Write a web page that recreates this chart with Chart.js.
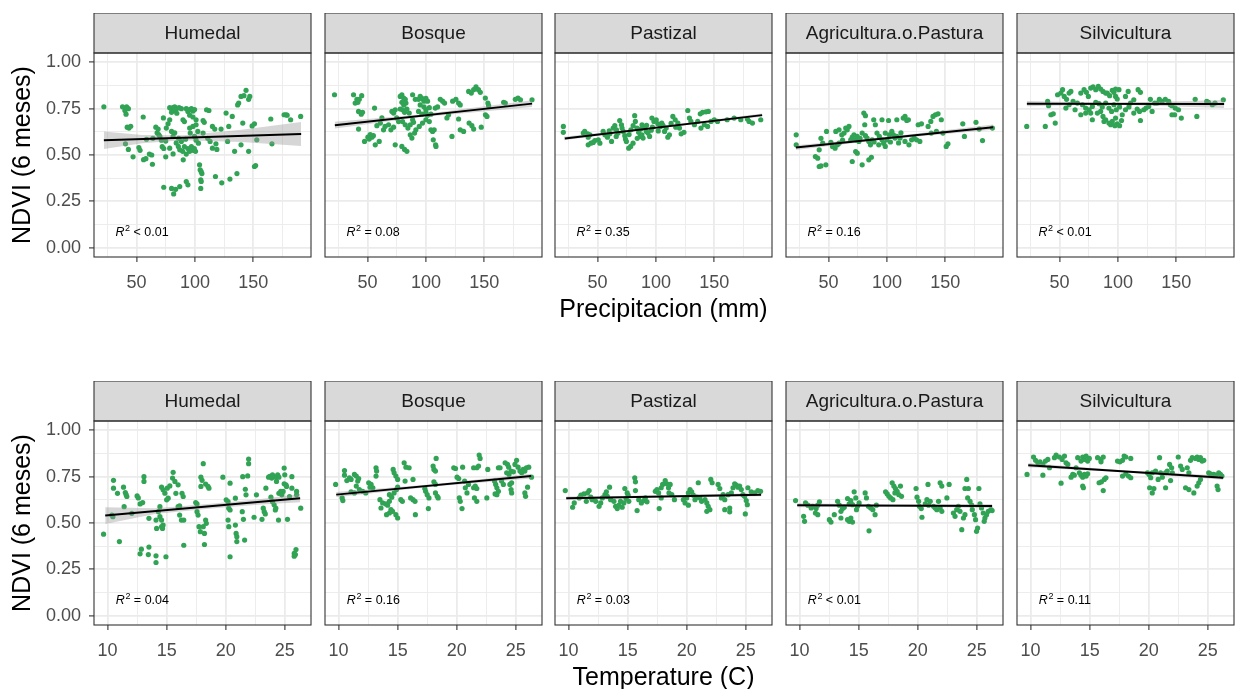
<!DOCTYPE html>
<html>
<head>
<meta charset="utf-8">
<script src="https://cdn.jsdelivr.net/npm/chart.js@4.4.1/dist/chart.umd.min.js"></script>
<style>
  html, body { margin: 0; padding: 0; background: #fff; width: 1236px; height: 689px; overflow: hidden; }
  canvas { position: absolute; }
</style>
</head>
<body>
<script>
// facet labels and annotations
const landUse = ['Humedal', 'Bosque', 'Pastizal', 'Agricultura.o.Pastura', 'Silvicultura'];
const precipR2 = ['< 0.01', '= 0.08', '= 0.35', '= 0.16', '< 0.01'];
const tempR2 = ['= 0.04', '= 0.16', '= 0.03', '< 0.01', '= 0.11'];

// axis breaks
const precipTicks = [50, 100, 150];
const precipMinor = [25, 75, 125, 175];
const tempTicks = [10, 15, 20, 25];
const tempMinor = [12.5, 17.5, 22.5];
const ndviTicks = [0, 0.25, 0.5, 0.75, 1];
const ndviMinor = [0.125, 0.375, 0.625, 0.875];
const precipRange = [13.55, 199.45];
const tempRange = [8.85, 27.22];
const ndviRange = [-0.05, 1.05];

// NDVI vs precipitation (mm)
const precipHumedal = [[22,0.76],[38,0.76],[40,0.74],[41.5,0.76],[43,0.75],[41,0.72],[42,0.65],[43.5,0.645],[45,0.655],[40.5,0.56],[43,0.53],[47,0.49],[52,0.54],[53,0.525],[55.7,0.705],[56,0.475],[58,0.48],[61,0.505],[63,0.50],[58.5,0.585],[63.6,0.45],[66.5,0.65],[67.6,0.62],[68.5,0.64],[70,0.60],[71.3,0.58],[73,0.70],[72,0.545],[73.3,0.535],[73.3,0.326],[75,0.49],[75.5,0.645],[77,0.668],[78.4,0.69],[78.4,0.755],[79.8,0.75],[81.3,0.755],[82.7,0.76],[84,0.748],[86.4,0.755],[88.4,0.75],[80,0.73],[82,0.74],[84.5,0.725],[80,0.32],[81.8,0.29],[83.5,0.315],[87,0.33],[80,0.627],[81.3,0.60],[82.7,0.62],[84,0.565],[85.8,0.546],[87,0.528],[88.4,0.573],[78.4,0.537],[81.3,0.506],[89.8,0.69],[91,0.68],[89.5,0.52],[91,0.545],[92.6,0.505],[94,0.535],[95.5,0.52],[97,0.545],[98.5,0.525],[99.5,0.535],[100.5,0.52],[90,0.474],[92.6,0.357],[94,0.339],[92.6,0.75],[94,0.735],[95.5,0.745],[97,0.75],[98.3,0.737],[99.7,0.745],[95.5,0.715],[98.3,0.705],[101,0.69],[95.5,0.645],[98.3,0.654],[101,0.663],[96,0.618],[99.7,0.60],[102.5,0.627],[103,0.564],[104,0.447],[104.5,0.42],[105.4,0.41],[106,0.40],[105,0.366],[105.4,0.357],[105,0.32],[107,0.686],[108,0.676],[110,0.744],[112,0.74],[107,0.618],[111,0.59],[113,0.573],[115,0.537],[115,0.654],[117,0.64],[117.6,0.384],[118.8,0.53],[118,0.56],[122.4,0.64],[123,0.35],[126.7,0.726],[128,0.573],[129,0.654],[130,0.37],[132,0.708],[134,0.52],[136,0.40],[137.5,0.78],[139.5,0.816],[142,0.82],[143.8,0.849],[146,0.80],[147,0.816],[136.6,0.77],[139.5,0.555],[141,0.672],[146,0.52],[149,0.657],[151,0.668],[151,0.438],[152,0.443],[153,0.582],[165,0.694],[166,0.56],[176.4,0.717],[178,0.717],[179,0.715],[182,0.69],[190.6,0.708],[64,0.59],[69,0.61],[75,0.575],[86,0.59],[92,0.585],[101,0.58]];
const precipBosque = [[21.7,0.825],[38,0.825],[40.9,0.80],[42.9,0.80],[45,0.82],[39.4,0.78],[41.7,0.784],[42.3,0.735],[44.6,0.72],[45.7,0.73],[42.3,0.64],[47.4,0.573],[50.3,0.596],[52.3,0.61],[53.7,0.596],[55,0.604],[51.4,0.586],[56.6,0.555],[60,0.573],[56,0.753],[58,0.658],[61,0.672],[63.7,0.636],[65,0.654],[62.3,0.70],[70.9,0.735],[72.3,0.726],[73.7,0.744],[73.7,0.555],[68,0.663],[70,0.636],[72.3,0.65],[75,0.70],[76.6,0.68],[78,0.816],[79.4,0.825],[80.9,0.807],[82.3,0.80],[79.4,0.784],[81,0.77],[82.9,0.78],[78,0.748],[80,0.744],[81.7,0.73],[83.7,0.748],[85.7,0.726],[79.4,0.546],[81.7,0.53],[83.7,0.52],[80,0.68],[82.3,0.663],[84.6,0.645],[86.6,0.663],[88.6,0.69],[89.4,0.676],[86.6,0.609],[88,0.591],[90.3,0.618],[91.4,0.636],[88.6,0.825],[90.9,0.80],[93.7,0.80],[95.1,0.816],[96.6,0.805],[98.3,0.79],[100,0.805],[101.4,0.79],[95.1,0.77],[98.3,0.76],[100,0.745],[102.9,0.755],[93.7,0.735],[96.6,0.72],[100,0.73],[101.4,0.715],[104.3,0.72],[94.3,0.654],[97.1,0.672],[100,0.69],[102.9,0.68],[105.7,0.627],[104.3,0.636],[107.1,0.636],[106.3,0.582],[108.3,0.555],[108.6,0.546],[108,0.753],[110,0.759],[112.3,0.80],[114.3,0.79],[116,0.78],[118,0.70],[119.4,0.717],[122.9,0.79],[125.7,0.80],[128,0.78],[129.4,0.77],[122.3,0.60],[128,0.694],[129.4,0.636],[132.3,0.627],[136.6,0.843],[138.9,0.834],[140.9,0.852],[142.9,0.867],[145,0.852],[146.6,0.838],[137,0.672],[139.4,0.658],[140.9,0.64],[147.4,0.65],[150.9,0.807],[153.1,0.78],[153.7,0.766],[151,0.717],[152.3,0.708],[166.6,0.784],[168,0.78],[176.6,0.80],[178.9,0.807],[181,0.798],[190.9,0.798]];
const precipPastizal = [[20.7,0.654],[20.7,0.622],[37.8,0.618],[39,0.627],[41.5,0.614],[43.5,0.609],[42,0.596],[42,0.555],[44.3,0.564],[46.3,0.568],[47.7,0.578],[50.6,0.582],[52,0.564],[54.8,0.627],[56.3,0.609],[58.5,0.596],[60.5,0.614],[62,0.573],[63.4,0.645],[64.8,0.658],[66.2,0.636],[67.6,0.618],[69,0.686],[70.5,0.663],[72,0.627],[73.3,0.604],[73.9,0.586],[74.7,0.573],[76.7,0.537],[78.4,0.546],[80.4,0.564],[78.6,0.636],[80.5,0.658],[81.8,0.712],[82.4,0.681],[83.8,0.645],[85.2,0.622],[86.6,0.60],[88,0.609],[88.1,0.663],[90.3,0.645],[91.8,0.627],[93.2,0.618],[94.6,0.60],[89,0.591],[96,0.634],[96.6,0.699],[98.3,0.681],[100.3,0.69],[101.7,0.668],[104,0.654],[105,0.672],[107.4,0.627],[110.2,0.596],[111.6,0.609],[108.8,0.645],[114.5,0.708],[116.5,0.69],[118.8,0.672],[120.2,0.645],[121.6,0.614],[124,0.622],[127.3,0.74],[128.7,0.699],[130,0.681],[133,0.663],[135.8,0.681],[138,0.722],[140,0.73],[142.9,0.733],[144.9,0.735],[138.6,0.645],[141.5,0.663],[144.3,0.654],[147.2,0.681],[150,0.69],[152.8,0.681],[161,0.69],[167,0.699],[172.7,0.69],[178.4,0.694],[179.8,0.681],[182.7,0.672],[189.8,0.69],[60,0.63],[66,0.60],[71,0.645],[77,0.61],[84,0.59],[87,0.64],[92,0.66],[97,0.65],[102,0.63],[106,0.66],[113,0.67],[117,0.65]];
const precipAgricultura = [[22.3,0.609],[22.3,0.555],[38.7,0.492],[40.7,0.483],[42,0.528],[42,0.438],[43.5,0.441],[47.7,0.447],[43.5,0.59],[45,0.564],[48.3,0.627],[52,0.568],[53.4,0.546],[55.6,0.537],[57.6,0.555],[59,0.564],[56.2,0.627],[59,0.636],[61.3,0.609],[63.3,0.618],[64.7,0.645],[66,0.636],[67.5,0.654],[69,0.582],[70.3,0.596],[71.8,0.609],[73.2,0.582],[74.6,0.60],[76,0.573],[70.3,0.465],[73.2,0.519],[74.6,0.51],[78.8,0.447],[80.2,0.726],[81.6,0.712],[81,0.663],[78.8,0.618],[81.6,0.604],[83,0.591],[84.5,0.573],[85.9,0.555],[87.3,0.582],[84.5,0.474],[86.7,0.488],[88.7,0.69],[90.1,0.663],[91.5,0.618],[93.5,0.60],[95.8,0.582],[97.2,0.564],[98.6,0.546],[100,0.582],[98.6,0.618],[102,0.609],[95.8,0.69],[101.4,0.686],[104.2,0.627],[105.6,0.609],[107,0.591],[108.5,0.60],[111.3,0.591],[108.5,0.69],[114,0.699],[115.5,0.708],[117,0.686],[118.4,0.69],[115.5,0.573],[118.9,0.555],[121.2,0.582],[123.4,0.591],[125.4,0.582],[128.2,0.573],[126.8,0.663],[129.6,0.668],[135.3,0.654],[137.6,0.681],[139.5,0.708],[141.5,0.717],[143.8,0.722],[146.6,0.69],[138,0.618],[142.4,0.627],[148,0.618],[150.8,0.546],[152.3,0.56],[165,0.668],[166.4,0.60],[176.3,0.676],[179,0.64],[181.9,0.578],[190.4,0.645],[62,0.58],[77,0.59],[89,0.57],[93,0.555],[103,0.57],[110,0.565],[112,0.62]];
const precipSilvicultura = [[21.9,0.654],[37.8,0.654],[39.8,0.789],[40.6,0.766],[42.6,0.717],[44.6,0.722],[46.3,0.672],[48.3,0.825],[51.1,0.834],[52.6,0.852],[54,0.816],[56,0.80],[58.2,0.834],[59.7,0.843],[55.4,0.753],[58.2,0.771],[61.6,0.789],[63.3,0.744],[65.3,0.78],[68.2,0.834],[71,0.852],[73,0.838],[74.7,0.816],[76.7,0.861],[78.7,0.867],[81,0.852],[83.2,0.87],[85.2,0.856],[87.2,0.843],[89.5,0.834],[69.6,0.771],[72.4,0.753],[75.3,0.744],[78.1,0.762],[81,0.784],[83.8,0.777],[86.6,0.759],[89.5,0.78],[68.2,0.717],[72.4,0.726],[76.7,0.726],[78.1,0.69],[82.4,0.726],[85.2,0.735],[87.2,0.708],[88.1,0.681],[90.9,0.834],[92.9,0.82],[95.2,0.849],[96.6,0.838],[98,0.816],[99.4,0.802],[100.9,0.852],[98,0.856],[92.3,0.753],[94.6,0.735],[96.6,0.771],[98.6,0.744],[101.4,0.759],[89.5,0.69],[92.3,0.672],[93.8,0.663],[95.2,0.681],[97.4,0.658],[99.4,0.668],[101.4,0.658],[103.1,0.686],[98,0.699],[103.7,0.717],[106.5,0.744],[109.4,0.759],[110.8,0.78],[113.6,0.798],[106.5,0.816],[108.8,0.843],[113.6,0.726],[116.5,0.748],[118.5,0.735],[119.3,0.686],[117.3,0.852],[119.3,0.838],[122.2,0.744],[124.1,0.753],[126.4,0.762],[129.3,0.735],[131.5,0.78],[127.8,0.80],[133.5,0.78],[135.5,0.80],[137.8,0.789],[140.6,0.80],[143.5,0.789],[144.9,0.771],[146.3,0.766],[146.3,0.717],[149.1,0.753],[151.9,0.744],[148.6,0.717],[154.3,0.699],[166.2,0.80],[167.6,0.708],[176.1,0.789],[177.6,0.784],[180.9,0.771],[183.2,0.78],[190.3,0.798]];

// NDVI vs temperature (C)
const tempHumedal = [[9.66,0.44],[10.5,0.73],[10.5,0.688],[10.36,0.543],[10.45,0.534],[10.84,0.66],[11,0.40],[11.35,0.693],[11.5,0.664],[11.57,0.653],[11.63,0.643],[11.4,0.588],[12.05,0.552],[12.5,0.646],[12.6,0.635],[12.75,0.603],[12.97,0.61],[13.08,0.75],[13.08,0.724],[12.75,0.334],[12.86,0.359],[13.5,0.37],[13.45,0.33],[14.1,0.323],[14.1,0.287],[14.94,0.318],[13.5,0.525],[14.1,0.516],[14.15,0.471],[14.3,0.561],[14.43,0.588],[14.57,0.693],[14.7,0.679],[14.85,0.661],[14.43,0.534],[14.57,0.516],[14.7,0.489],[14.57,0.48],[14.65,0.471],[15,0.625],[15.13,0.634],[15.05,0.688],[15.27,0.70],[15.5,0.742],[15.55,0.773],[15.7,0.724],[15.78,0.66],[15.97,0.706],[15.97,0.588],[16.1,0.592],[16.1,0.543],[16.25,0.516],[16.3,0.66],[16.4,0.643],[16.45,0.38],[16.45,0.516],[17.46,0.61],[17.57,0.603],[17.57,0.561],[17.66,0.543],[17.74,0.48],[17.85,0.453],[17.9,0.747],[18,0.73],[17.9,0.697],[18.1,0.48],[18.1,0.82],[18.2,0.384],[18.2,0.444],[18.3,0.516],[18.36,0.498],[18.3,0.71],[18.5,0.697],[18.58,0.688],[19.76,0.747],[20.04,0.625],[20.2,0.615],[20.26,0.58],[20.2,0.516],[20.26,0.48],[20.37,0.715],[20.37,0.318],[20.37,0.57],[20.82,0.634],[20.82,0.489],[20.88,0.444],[20.94,0.426],[20.94,0.40],[21.4,0.561],[21.5,0.52],[21.6,0.408],[21.44,0.75],[21.66,0.682],[21.72,0.652],[21.86,0.754],[21.94,0.845],[21.94,0.82],[22.4,0.531],[22.6,0.652],[23.07,0.52],[23.18,0.58],[23.26,0.561],[23.35,0.549],[23.4,0.688],[23.63,0.747],[23.74,0.751],[23.9,0.742],[23.96,0.76],[23.83,0.639],[23.96,0.615],[24.1,0.598],[24.24,0.58],[24.2,0.57],[24.24,0.747],[24.4,0.76],[24.5,0.747],[24.3,0.724],[24.5,0.66],[24.66,0.67],[24.75,0.652],[24.86,0.67],[24.47,0.516],[24.95,0.796],[25,0.76],[25.1,0.706],[25.15,0.697],[24.95,0.711],[25.23,0.52],[25.4,0.643],[25.6,0.75],[25.6,0.688],[25.8,0.336],[25.8,0.321],[25.9,0.33],[25.95,0.357],[26,0.67],[26,0.652],[26.35,0.58]];
const tempBosque = [[9.75,0.708],[10.3,0.635],[10.36,0.621],[10.5,0.783],[10.5,0.758],[10.7,0.729],[10.92,0.744],[11.06,0.735],[11.34,0.762],[11.5,0.753],[11.62,0.726],[11.7,0.74],[11.5,0.699],[11.76,0.68],[11.06,0.668],[11.34,0.662],[12.04,0.671],[12.3,0.662],[12.55,0.717],[12.75,0.708],[12.9,0.69],[12.66,0.693],[13.17,0.798],[13.22,0.78],[13.17,0.753],[13.5,0.626],[13.73,0.608],[13.59,0.581],[14,0.603],[14.15,0.596],[14.3,0.617],[14.3,0.653],[14.5,0.639],[14.7,0.662],[14.06,0.545],[14.3,0.554],[14.57,0.563],[14.85,0.545],[15,0.527],[14.43,0.572],[14.62,0.789],[14.7,0.771],[14.85,0.753],[15,0.735],[15,0.693],[14.9,0.68],[15.27,0.626],[15.4,0.617],[15.55,0.825],[15.7,0.801],[15.97,0.798],[15.63,0.726],[16.1,0.635],[16.3,0.626],[16.47,0.617],[16.3,0.735],[16.5,0.545],[17.3,0.686],[17.37,0.671],[17.5,0.653],[17.65,0.635],[17.6,0.578],[18,0.807],[18.07,0.789],[18.2,0.78],[18.26,0.848],[18.2,0.662],[18.35,0.644],[18.43,0.635],[18.07,0.722],[18.2,0.708],[19.75,0.798],[19.9,0.794],[20.03,0.747],[20.17,0.74],[20.22,0.635],[20.3,0.617],[20.45,0.578],[20.5,0.801],[20.67,0.726],[20.73,0.69],[20.87,0.662],[21,0.708],[21.43,0.798],[21.7,0.798],[21.85,0.807],[21.43,0.69],[21.57,0.699],[21.7,0.686],[21.5,0.635],[21.7,0.617],[21.9,0.866],[21.98,0.848],[22.55,0.635],[22.63,0.789],[23.2,0.726],[23.3,0.708],[23.4,0.69],[23.53,0.671],[23.25,0.657],[23.4,0.653],[23.53,0.798],[23.67,0.798],[23.8,0.726],[23.95,0.708],[24.1,0.825],[24.3,0.816],[24.4,0.801],[24.23,0.771],[24.43,0.762],[24.6,0.78],[24.8,0.776],[24.5,0.708],[24.65,0.717],[24.6,0.68],[24.65,0.662],[24.93,0.816],[25.07,0.838],[25.2,0.801],[25.35,0.78],[25.5,0.771],[25.63,0.789],[25.77,0.78],[25.9,0.798],[26.1,0.801],[25.77,0.662],[25.83,0.644],[26,0.693],[26.33,0.747]];
const tempPastizal = [[9.72,0.675],[10.34,0.585],[10.48,0.608],[10.9,0.635],[11.04,0.65],[11.3,0.657],[11.5,0.617],[11.6,0.662],[11.74,0.675],[11.88,0.639],[12,0.626],[12.3,0.617],[12.58,0.59],[12.72,0.608],[12.86,0.635],[13.08,0.653],[13.2,0.668],[13.28,0.644],[13.47,0.693],[13.56,0.626],[13.84,0.617],[13.98,0.59],[14.12,0.578],[14.26,0.596],[14.4,0.617],[14.54,0.585],[14.68,0.608],[14.76,0.686],[14.87,0.632],[14.96,0.662],[15.04,0.65],[15.1,0.617],[15.6,0.744],[15.66,0.722],[15.66,0.675],[15.8,0.567],[15.94,0.626],[16.16,0.608],[16.36,0.621],[16.5,0.635],[16.64,0.614],[17.34,0.671],[17.48,0.68],[17.62,0.662],[17.84,0.69],[17.96,0.708],[18.18,0.729],[18.32,0.711],[18.46,0.69],[18.6,0.708],[18.5,0.662],[17.84,0.635],[17.67,0.578],[18.74,0.653],[18.96,0.626],[19.72,0.626],[19.86,0.608],[20,0.635],[20.14,0.662],[20.28,0.68],[20.42,0.668],[20.56,0.65],[20.7,0.626],[20.84,0.639],[20.98,0.717],[20.14,0.596],[21.12,0.635],[21.26,0.617],[21.55,0.626],[21.7,0.608],[21.82,0.59],[21.96,0.572],[21.7,0.563],[22.04,0.735],[22.15,0.717],[22.66,0.708],[22.8,0.686],[22.94,0.635],[23.08,0.653],[23.22,0.626],[23.22,0.572],[23.64,0.581],[23.64,0.56],[23.5,0.653],[23.78,0.662],[23.92,0.69],[24.06,0.711],[24.2,0.704],[24.34,0.693],[24.48,0.699],[24.62,0.68],[24.76,0.653],[24.9,0.644],[25.04,0.621],[25.13,0.599],[24.96,0.549],[25.18,0.69],[25.46,0.668],[25.74,0.662],[26.02,0.675],[26.25,0.671]];
const tempAgricultura = [[9.66,0.621],[10.34,0.536],[10.42,0.509],[10.5,0.608],[10.7,0.596],[10.98,0.581],[11.12,0.59],[11.4,0.578],[11.54,0.596],[11.68,0.614],[11.34,0.554],[11.54,0.545],[12.52,0.518],[12.66,0.505],[12.94,0.545],[13.22,0.617],[13.36,0.596],[13.5,0.563],[13.64,0.578],[13.78,0.585],[13.5,0.527],[14.06,0.518],[14.2,0.509],[14.34,0.527],[14.48,0.505],[14.06,0.632],[14.2,0.603],[14.34,0.621],[14.48,0.599],[14.62,0.668],[14.76,0.635],[14.82,0.572],[14.9,0.59],[15.04,0.608],[15.55,0.662],[15.66,0.635],[15.83,0.59],[16.02,0.581],[16.2,0.572],[16.39,0.545],[16.5,0.596],[15.88,0.458],[17.28,0.668],[17.42,0.657],[17.56,0.644],[17.7,0.635],[17.84,0.717],[17.98,0.699],[18.12,0.686],[18.26,0.671],[18.4,0.653],[18.54,0.699],[18.63,0.644],[18.07,0.662],[17.9,0.626],[19.86,0.686],[19.94,0.639],[20.08,0.617],[20.14,0.59],[20.3,0.578],[20.36,0.531],[20.64,0.603],[20.78,0.626],[20.92,0.596],[21.06,0.617],[20.87,0.708],[21.34,0.59],[21.48,0.581],[21.62,0.572],[21.76,0.617],[21.9,0.581],[22.04,0.563],[21.9,0.717],[22.04,0.699],[22.47,0.635],[22.66,0.708],[23.02,0.554],[23.16,0.536],[23.3,0.572],[23.44,0.59],[23.58,0.563],[23.73,0.464],[23.87,0.527],[24,0.545],[24,0.686],[24.15,0.735],[24.29,0.686],[24.23,0.635],[24.43,0.617],[24.57,0.596],[24.62,0.572],[24.8,0.545],[24.9,0.518],[24.98,0.455],[25.07,0.473],[25.18,0.686],[25.27,0.603],[25.4,0.581],[25.55,0.554],[25.69,0.527],[25.83,0.545],[25.97,0.563],[26.2,0.572],[26.3,0.567],[25.63,0.509]];
const tempSilvicultura = [[9.7,0.762],[10.25,0.856],[10.42,0.838],[10.62,0.825],[10.8,0.83],[11.04,0.816],[11.26,0.834],[11.46,0.843],[11.6,0.798],[11.04,0.758],[12.02,0.852],[12.16,0.866],[12.44,0.856],[12.67,0.843],[12.87,0.861],[13,0.825],[13.15,0.816],[12.58,0.715],[13.43,0.747],[13.57,0.762],[13.7,0.758],[13.85,0.798],[13.99,0.852],[14.27,0.834],[14.41,0.856],[14.55,0.843],[14.7,0.861],[14.83,0.834],[14.97,0.848],[14.13,0.771],[14.27,0.758],[14.41,0.747],[14.55,0.762],[14.7,0.753],[14.83,0.765],[14.41,0.699],[14.47,0.69],[15.67,0.852],[15.96,0.843],[16.15,0.856],[15.96,0.83],[15.8,0.717],[16,0.722],[16.24,0.735],[16.38,0.744],[16.15,0.675],[17.36,0.834],[17.56,0.83],[17.78,0.838],[17.92,0.861],[18.06,0.856],[18.48,0.848],[17.78,0.753],[18.06,0.765],[18.29,0.753],[18.48,0.744],[19.9,0.771],[20.03,0.762],[20.17,0.744],[20.3,0.771],[20.08,0.69],[20.3,0.662],[20.44,0.686],[20.58,0.78],[20.8,0.735],[20.92,0.852],[21.01,0.771],[21.15,0.747],[21.43,0.771],[21.57,0.78],[21.43,0.69],[21.77,0.816],[21.94,0.798],[22,0.771],[21.85,0.729],[22.5,0.856],[22.7,0.807],[22.84,0.789],[23.12,0.69],[23.26,0.798],[23.4,0.771],[23.54,0.838],[23.68,0.852],[23.96,0.848],[24.1,0.856],[24.24,0.843],[24.38,0.852],[24.52,0.834],[24.66,0.838],[23.4,0.68],[23.82,0.662],[24.1,0.699],[24.24,0.717],[24.38,0.735],[25.08,0.771],[25.22,0.765],[25.5,0.762],[25.65,0.758],[25.93,0.771],[26.07,0.762],[26.2,0.753],[25.79,0.699],[25.87,0.68]];

// fitted lines (lm) and their 95% bands
const precipFitX = [22, 191];
const precipFitY = [[0.58, 0.613], [0.661, 0.777], [0.589, 0.715], [0.54, 0.65], [0.777, 0.775]];
const precipBandX = [[22, 55, 90, 140, 191], [22, 95, 191], [21, 95, 191], [22, 95, 191], [22, 95, 191]];
const precipBandHi = [[0.627, 0.608, 0.606, 0.636, 0.678], [0.679, 0.718, 0.795], [0.598, 0.648, 0.724], [0.553, 0.593, 0.664], [0.791, 0.781, 0.797]];
const precipBandLo = [[0.533, 0.564, 0.580, 0.570, 0.548], [0.643, 0.704, 0.759], [0.580, 0.640, 0.706], [0.527, 0.582, 0.636], [0.763, 0.772, 0.753]];
const tempFitX = [9.8, 26.3];
const tempFitY = [[0.54, 0.634], [0.653, 0.753], [0.634, 0.653], [0.596, 0.592], [0.812, 0.744]];
const tempBandX = [[9.8, 14, 19, 23, 26.3], [9.8, 18, 26.3], [9.8, 18, 26.3], [9.8, 18, 26.3], [9.8, 18, 26.3]];
const tempBandHi = [[0.585, 0.580, 0.605, 0.630, 0.656], [0.667, 0.709, 0.766], [0.643, 0.648, 0.662], [0.607, 0.599, 0.603], [0.823, 0.783, 0.755]];
const tempBandLo = [[0.495, 0.548, 0.579, 0.600, 0.612], [0.639, 0.697, 0.740], [0.625, 0.639, 0.644], [0.585, 0.589, 0.581], [0.801, 0.773, 0.733]];

const precipSeries = [precipHumedal, precipBosque, precipPastizal, precipAgricultura, precipSilvicultura];
const tempSeries = [tempHumedal, tempBosque, tempPastizal, tempAgricultura, tempSilvicultura];

// layout of the facet grid (px)
const FONT = 'Arial, "Liberation Sans", sans-serif';
const COL_LEFT = [94, 325, 555, 786, 1017];
const ROW_TOP = [53, 421];
const PANEL_W = 217, PANEL_H = 204, STRIP_H = 40, AXIS_H = 72;
const POINT_COLOR = '#31a354';

Chart.defaults.font.family = FONT;

const facetPlugin = {
  id: 'facet',
  afterDraw(chart, args, opts) {
    const { ctx, chartArea: a } = chart;
    const w = a.right - a.left;
    ctx.save();
    ctx.fillStyle = '#d9d9d9';
    ctx.fillRect(a.left, a.top - STRIP_H, w, STRIP_H);
    ctx.strokeStyle = '#333';
    ctx.lineWidth = 1.1;
    ctx.strokeRect(a.left, a.top - STRIP_H, w, STRIP_H);
    ctx.strokeRect(a.left, a.top, w, a.bottom - a.top);
    ctx.fillStyle = '#1a1a1a';
    ctx.font = '19px ' + FONT;
    ctx.textAlign = 'center';
    ctx.textBaseline = 'middle';
    ctx.fillText(opts.label, a.left + w / 2, a.top - STRIP_H / 2 + 1);

    // R^2 annotation
    let px = chart.scales.x.getPixelForValue(opts.r2x);
    const py = chart.scales.y.getPixelForValue(opts.r2y);
    ctx.textAlign = 'left';
    ctx.fillStyle = '#000';
    ctx.font = 'italic 12.5px ' + FONT;
    ctx.fillText('R', px, py);
    px += ctx.measureText('R').width + 0.5;
    ctx.font = '9px ' + FONT;
    ctx.fillText('2', px, py - 4.5);
    px += ctx.measureText('2').width;
    ctx.font = '12.5px ' + FONT;
    ctx.fillText(' ' + opts.r2, px, py);
    ctx.restore();
  }
};

const isIn = (list, v) => list.some(t => Math.abs(t - v) < 1e-9);

function gridOpts(majors, showTicks) {
  return {
    color: '#ebebeb',
    lineWidth: c => (c.tick && isIn(majors, c.tick.value)) ? 1.8 : 0.9,
    drawTicks: showTicks,
    tickLength: 5,
    tickWidth: 1.1,
    tickColor: c => (c.tick && isIn(majors, c.tick.value)) ? '#333' : 'rgba(0,0,0,0)'
  };
}

function makePanel(row, col) {
  const precip = row === 0;
  const pts = (precip ? precipSeries : tempSeries)[col];
  const fitX = precip ? precipFitX : tempFitX;
  const fitY = (precip ? precipFitY : tempFitY)[col];
  const bandX = (precip ? precipBandX : tempBandX)[col];
  const bandHi = (precip ? precipBandHi : tempBandHi)[col];
  const bandLo = (precip ? precipBandLo : tempBandLo)[col];
  const xMajor = precip ? precipTicks : tempTicks;
  const xMinor = precip ? precipMinor : tempMinor;
  const xRange = precip ? precipRange : tempRange;

  const L = col === 0 ? 94 : 20, R = 20;
  const width = L + PANEL_W + R;
  const height = STRIP_H + PANEL_H + AXIS_H;
  const canvas = document.createElement('canvas');
  canvas.width = width;
  canvas.height = height;
  canvas.style.width = width + 'px';
  canvas.style.height = height + 'px';
  canvas.style.left = (COL_LEFT[col] - L) + 'px';
  canvas.style.top = (ROW_TOP[row] - STRIP_H) + 'px';
  document.body.appendChild(canvas);

  new Chart(canvas.getContext('2d'), {
    type: 'scatter',
    data: {
      datasets: [
        {
          type: 'line',
          data: fitX.map((x, i) => ({ x, y: fitY[i] })),
          borderColor: '#000',
          borderWidth: 2,
          pointRadius: 0,
          fill: false
        },
        {
          type: 'line',
          data: bandX.map((x, i) => ({ x, y: bandHi[i] })),
          borderColor: 'rgba(0,0,0,0)',
          borderWidth: 0,
          pointRadius: 0,
          fill: '+1',
          backgroundColor: 'rgba(153,153,153,0.4)'
        },
        {
          type: 'line',
          data: bandX.map((x, i) => ({ x, y: bandLo[i] })),
          borderColor: 'rgba(0,0,0,0)',
          borderWidth: 0,
          pointRadius: 0,
          fill: false
        },
        {
          type: 'scatter',
          data: pts.map(p => ({ x: p[0], y: p[1] })),
          backgroundColor: POINT_COLOR,
          borderColor: POINT_COLOR,
          pointRadius: 2.6,
          borderWidth: 0
        }
      ]
    },
    options: {
      responsive: false,
      animation: false,
      events: [],
      layout: { padding: { top: STRIP_H, right: R, left: 0, bottom: 0 } },
      plugins: {
        legend: { display: false },
        tooltip: { enabled: false },
        facet: {
          label: landUse[col],
          r2: (precip ? precipR2 : tempR2)[col],
          r2x: precip ? 32 : 10.7,
          r2y: 0.08
        }
      },
      scales: {
        x: {
          type: 'linear',
          min: xRange[0],
          max: xRange[1],
          afterBuildTicks: s => { s.ticks = xMajor.concat(xMinor).sort((a, b) => a - b).map(v => ({ value: v })); },
          afterFit: s => { s.height = AXIS_H; },
          border: { display: false },
          grid: gridOpts(xMajor, true),
          ticks: {
            autoSkip: false,
            maxRotation: 0,
            padding: 10.5,
            color: '#4d4d4d',
            font: { size: 18, family: FONT },
            callback: v => isIn(xMajor, v) ? String(v) : ''
          },
          title: {
            display: col === 2,
            text: precip ? 'Precipitacion (mm)' : 'Temperature (C)',
            color: '#000',
            font: { size: 25, family: FONT },
            padding: { top: 0, bottom: 4 }
          }
        },
        y: {
          type: 'linear',
          min: ndviRange[0],
          max: ndviRange[1],
          afterBuildTicks: s => { s.ticks = ndviTicks.concat(ndviMinor).sort((a, b) => a - b).map(v => ({ value: v })); },
          afterFit: s => { s.width = L; },
          border: { display: false },
          grid: gridOpts(ndviTicks, col === 0),
          ticks: {
            display: col === 0,
            autoSkip: false,
            padding: 8,
            color: '#4d4d4d',
            font: { size: 18, family: FONT },
            callback: v => isIn(ndviTicks, v) ? v.toFixed(2) : ''
          },
          title: {
            display: col === 0,
            text: 'NDVI (6 meses)',
            color: '#000',
            font: { size: 25, family: FONT },
            padding: { top: 8.5, bottom: 0 }
          }
        }
      }
    },
    plugins: [facetPlugin]
  });
}

for (let row = 0; row < 2; row++) {
  for (let col = 0; col < 5; col++) makePanel(row, col);
}
</script>
</body>
</html>
